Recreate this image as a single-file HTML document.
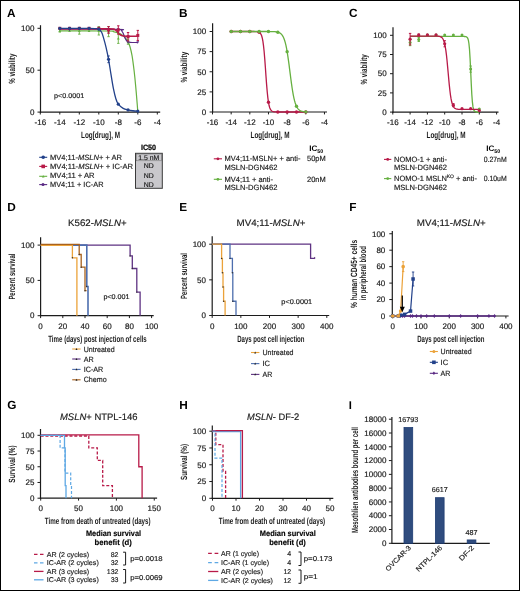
<!DOCTYPE html>
<html><head><meta charset="utf-8"><style>
html,body{margin:0;padding:0;background:#fff;}
#fig{position:relative;width:520px;height:591px;box-sizing:border-box;border:1px solid #000;overflow:hidden;background:#fff;}
#fig svg{position:absolute;left:-1px;top:-1px;will-change:transform;}
</style></head><body><div id="fig"><svg width="520" height="591" viewBox="0 0 520 591" font-family='"Liberation Sans", sans-serif' fill="#1a1a1a" text-rendering="geometricPrecision"><text x="7.00" y="16.60" font-size="11.8" font-weight="bold" fill="#000">A</text>
<line x1="40.50" y1="25.20" x2="40.50" y2="112.70" stroke="#1c1c1c" stroke-width="1.2" stroke-linecap="butt"/>
<line x1="37.50" y1="28.30" x2="40.50" y2="28.30" stroke="#1c1c1c" stroke-width="1.0" stroke-linecap="butt"/>
<text x="34.40" y="31.05" font-size="8.0" text-anchor="end" stroke="#1a1a1a" stroke-width="0.18">100</text>
<line x1="37.50" y1="70.20" x2="40.50" y2="70.20" stroke="#1c1c1c" stroke-width="1.0" stroke-linecap="butt"/>
<text x="34.40" y="72.95" font-size="8.0" text-anchor="end" stroke="#1a1a1a" stroke-width="0.18">50</text>
<line x1="37.50" y1="112.10" x2="40.50" y2="112.10" stroke="#1c1c1c" stroke-width="1.0" stroke-linecap="butt"/>
<text x="34.40" y="114.85" font-size="8.0" text-anchor="end" stroke="#1a1a1a" stroke-width="0.18">0</text>
<line x1="39.90" y1="112.10" x2="160.20" y2="112.10" stroke="#1c1c1c" stroke-width="1.2" stroke-linecap="butt"/>
<line x1="40.30" y1="112.10" x2="40.30" y2="114.50" stroke="#1c1c1c" stroke-width="1.0" stroke-linecap="butt"/>
<text x="40.30" y="125.00" font-size="8.0" text-anchor="middle" stroke="#1a1a1a" stroke-width="0.18">-16</text>
<line x1="59.80" y1="112.10" x2="59.80" y2="114.50" stroke="#1c1c1c" stroke-width="1.0" stroke-linecap="butt"/>
<text x="59.80" y="125.00" font-size="8.0" text-anchor="middle" stroke="#1a1a1a" stroke-width="0.18">-14</text>
<line x1="79.30" y1="112.10" x2="79.30" y2="114.50" stroke="#1c1c1c" stroke-width="1.0" stroke-linecap="butt"/>
<text x="79.30" y="125.00" font-size="8.0" text-anchor="middle" stroke="#1a1a1a" stroke-width="0.18">-12</text>
<line x1="98.80" y1="112.10" x2="98.80" y2="114.50" stroke="#1c1c1c" stroke-width="1.0" stroke-linecap="butt"/>
<text x="98.80" y="125.00" font-size="8.0" text-anchor="middle" stroke="#1a1a1a" stroke-width="0.18">-10</text>
<line x1="118.30" y1="112.10" x2="118.30" y2="114.50" stroke="#1c1c1c" stroke-width="1.0" stroke-linecap="butt"/>
<text x="118.30" y="125.00" font-size="8.0" text-anchor="middle" stroke="#1a1a1a" stroke-width="0.18">-8</text>
<line x1="137.80" y1="112.10" x2="137.80" y2="114.50" stroke="#1c1c1c" stroke-width="1.0" stroke-linecap="butt"/>
<text x="137.80" y="125.00" font-size="8.0" text-anchor="middle" stroke="#1a1a1a" stroke-width="0.18">-6</text>
<line x1="157.30" y1="112.10" x2="157.30" y2="114.50" stroke="#1c1c1c" stroke-width="1.0" stroke-linecap="butt"/>
<text x="157.30" y="125.00" font-size="8.0" text-anchor="middle" stroke="#1a1a1a" stroke-width="0.18">-4</text>
<text x="81.00" y="138.00" font-size="9" font-weight="bold" textLength="39" lengthAdjust="spacingAndGlyphs">Log[drug], M</text>
<text x="15.10" y="68.70" font-size="9" text-anchor="middle" font-weight="bold" textLength="30" lengthAdjust="spacingAndGlyphs" transform="rotate(-90 15.10 68.70)">% viability</text>
<text x="54.00" y="97.70" font-size="6.8" textLength="30.2" lengthAdjust="spacingAndGlyphs" stroke="#1a1a1a" stroke-width="0.16">p&lt;0.0001</text>
<path d="M59.80,30.81 C67.92,30.84 99.61,30.84 108.55,30.98 C117.49,31.12 111.80,31.33 113.42,31.65 C115.05,31.97 116.67,32.21 118.30,32.91 C119.92,33.61 121.88,34.86 123.17,35.84 C124.47,36.82 125.29,37.80 126.10,38.77 C126.91,39.75 127.40,40.38 128.05,41.71 C128.70,43.03 129.35,44.50 130.00,46.74 C130.65,48.97 131.38,52.04 131.95,55.12 C132.52,58.19 132.93,61.40 133.41,65.17 C133.90,68.94 134.39,72.99 134.88,77.74 C135.36,82.49 135.93,89.05 136.34,93.66 C136.74,98.27 137.07,102.32 137.31,105.40 C137.56,108.47 137.72,110.98 137.80,112.10" fill="none" stroke="#66b040" stroke-width="1.2"/>
<path d="M59.80,29.14 C69.55,29.17 108.06,29.10 118.30,29.31 C128.54,29.52 120.41,29.72 121.23,30.39 C122.04,31.07 122.53,32.00 123.17,33.33 C123.82,34.65 124.47,37.03 125.12,38.36 C125.77,39.68 126.26,40.63 127.08,41.29 C127.89,41.95 128.21,42.09 130.00,42.29 C131.79,42.50 136.50,42.50 137.80,42.55" fill="none" stroke="#5a2a84" stroke-width="1.2"/>
<path d="M59.80,28.72 C67.92,28.75 99.45,28.75 108.55,28.89 C117.65,29.03 112.94,29.10 114.40,29.56 C115.86,30.02 116.51,30.88 117.33,31.65 C118.14,32.42 118.46,33.50 119.27,34.17 C120.09,34.84 121.06,35.34 122.20,35.67 C123.34,36.01 123.50,36.08 126.10,36.18 C128.70,36.27 135.85,36.25 137.80,36.26" fill="none" stroke="#b81a48" stroke-width="1.6"/>
<path d="M59.80,28.30 C64.67,28.30 83.04,28.24 89.05,28.30 C95.06,28.36 94.25,28.50 95.88,28.64 C97.50,28.77 97.83,28.50 98.80,29.14 C99.77,29.78 100.91,30.95 101.72,32.49 C102.54,34.03 102.94,35.84 103.67,38.36 C104.41,40.87 105.30,44.08 106.11,47.57 C106.92,51.07 107.74,54.84 108.55,59.31 C109.36,63.78 110.17,69.50 110.99,74.39 C111.80,79.28 112.61,84.59 113.42,88.64 C114.24,92.69 115.05,96.11 115.86,98.69 C116.67,101.28 117.08,102.53 118.30,104.14 C119.52,105.75 121.55,107.37 123.17,108.33 C124.80,109.29 126.43,109.52 128.05,109.92 C129.68,110.33 131.30,110.56 132.93,110.76 C134.55,110.95 136.99,111.04 137.80,111.09" fill="none" stroke="#22418a" stroke-width="1.3"/>
<line x1="59.80" y1="29.56" x2="59.80" y2="32.07" stroke="#66b040" stroke-width="0.9" stroke-linecap="butt"/>
<line x1="58.60" y1="29.56" x2="61.00" y2="29.56" stroke="#66b040" stroke-width="0.9" stroke-linecap="butt"/>
<line x1="58.60" y1="32.07" x2="61.00" y2="32.07" stroke="#66b040" stroke-width="0.9" stroke-linecap="butt"/>
<path d="M58.40,32.01 L61.20,32.01 L59.80,29.51Z" fill="#66b040"/>
<path d="M68.15,32.01 L70.95,32.01 L69.55,29.51Z" fill="#66b040"/>
<line x1="79.30" y1="27.46" x2="79.30" y2="34.17" stroke="#66b040" stroke-width="0.9" stroke-linecap="butt"/>
<line x1="78.10" y1="27.46" x2="80.50" y2="27.46" stroke="#66b040" stroke-width="0.9" stroke-linecap="butt"/>
<line x1="78.10" y1="34.17" x2="80.50" y2="34.17" stroke="#66b040" stroke-width="0.9" stroke-linecap="butt"/>
<path d="M77.90,32.01 L80.70,32.01 L79.30,29.51Z" fill="#66b040"/>
<path d="M87.65,32.01 L90.45,32.01 L89.05,29.51Z" fill="#66b040"/>
<line x1="98.80" y1="26.62" x2="98.80" y2="35.00" stroke="#66b040" stroke-width="0.9" stroke-linecap="butt"/>
<line x1="97.60" y1="26.62" x2="100.00" y2="26.62" stroke="#66b040" stroke-width="0.9" stroke-linecap="butt"/>
<line x1="97.60" y1="35.00" x2="100.00" y2="35.00" stroke="#66b040" stroke-width="0.9" stroke-linecap="butt"/>
<path d="M97.40,32.01 L100.20,32.01 L98.80,29.51Z" fill="#66b040"/>
<line x1="108.55" y1="26.62" x2="108.55" y2="36.68" stroke="#66b040" stroke-width="0.9" stroke-linecap="butt"/>
<line x1="107.35" y1="26.62" x2="109.75" y2="26.62" stroke="#66b040" stroke-width="0.9" stroke-linecap="butt"/>
<line x1="107.35" y1="36.68" x2="109.75" y2="36.68" stroke="#66b040" stroke-width="0.9" stroke-linecap="butt"/>
<path d="M107.15,32.85 L109.95,32.85 L108.55,30.35Z" fill="#66b040"/>
<line x1="118.30" y1="33.33" x2="118.30" y2="43.38" stroke="#66b040" stroke-width="0.9" stroke-linecap="butt"/>
<line x1="117.10" y1="33.33" x2="119.50" y2="33.33" stroke="#66b040" stroke-width="0.9" stroke-linecap="butt"/>
<line x1="117.10" y1="43.38" x2="119.50" y2="43.38" stroke="#66b040" stroke-width="0.9" stroke-linecap="butt"/>
<path d="M116.90,39.56 L119.70,39.56 L118.30,37.06Z" fill="#66b040"/>
<line x1="128.05" y1="39.19" x2="128.05" y2="44.22" stroke="#66b040" stroke-width="0.9" stroke-linecap="butt"/>
<line x1="126.85" y1="39.19" x2="129.25" y2="39.19" stroke="#66b040" stroke-width="0.9" stroke-linecap="butt"/>
<line x1="126.85" y1="44.22" x2="129.25" y2="44.22" stroke="#66b040" stroke-width="0.9" stroke-linecap="butt"/>
<path d="M126.65,42.91 L129.45,42.91 L128.05,40.41Z" fill="#66b040"/>
<path d="M58.40,27.94 L61.20,27.94 L59.80,30.44Z" fill="#5a2a84"/>
<path d="M68.15,28.78 L70.95,28.78 L69.55,31.28Z" fill="#5a2a84"/>
<path d="M77.90,27.94 L80.70,27.94 L79.30,30.44Z" fill="#5a2a84"/>
<path d="M87.65,27.94 L90.45,27.94 L89.05,30.44Z" fill="#5a2a84"/>
<path d="M97.40,27.94 L100.20,27.94 L98.80,30.44Z" fill="#5a2a84"/>
<path d="M107.15,27.94 L109.95,27.94 L108.55,30.44Z" fill="#5a2a84"/>
<path d="M116.90,28.36 L119.70,28.36 L118.30,30.86Z" fill="#5a2a84"/>
<path d="M126.65,41.35 L129.45,41.35 L128.05,43.85Z" fill="#5a2a84"/>
<path d="M136.40,41.35 L139.20,41.35 L137.80,43.85Z" fill="#5a2a84"/>
<rect x="58.30" y="26.80" width="3.00" height="3.00" fill="#b81a48" stroke="none" stroke-width="0"/>
<rect x="68.05" y="26.80" width="3.00" height="3.00" fill="#b81a48" stroke="none" stroke-width="0"/>
<rect x="77.80" y="26.80" width="3.00" height="3.00" fill="#b81a48" stroke="none" stroke-width="0"/>
<rect x="87.55" y="26.80" width="3.00" height="3.00" fill="#b81a48" stroke="none" stroke-width="0"/>
<rect x="97.30" y="26.80" width="3.00" height="3.00" fill="#b81a48" stroke="none" stroke-width="0"/>
<line x1="108.55" y1="26.62" x2="108.55" y2="33.33" stroke="#b81a48" stroke-width="1.0" stroke-linecap="butt"/>
<line x1="107.35" y1="26.62" x2="109.75" y2="26.62" stroke="#b81a48" stroke-width="1.0" stroke-linecap="butt"/>
<line x1="107.35" y1="33.33" x2="109.75" y2="33.33" stroke="#b81a48" stroke-width="1.0" stroke-linecap="butt"/>
<rect x="107.05" y="28.48" width="3.00" height="3.00" fill="#b81a48" stroke="none" stroke-width="0"/>
<line x1="118.30" y1="25.79" x2="118.30" y2="34.17" stroke="#b81a48" stroke-width="1.0" stroke-linecap="butt"/>
<line x1="117.10" y1="25.79" x2="119.50" y2="25.79" stroke="#b81a48" stroke-width="1.0" stroke-linecap="butt"/>
<line x1="117.10" y1="34.17" x2="119.50" y2="34.17" stroke="#b81a48" stroke-width="1.0" stroke-linecap="butt"/>
<rect x="116.80" y="28.48" width="3.00" height="3.00" fill="#b81a48" stroke="none" stroke-width="0"/>
<line x1="128.05" y1="32.49" x2="128.05" y2="40.87" stroke="#b81a48" stroke-width="1.0" stroke-linecap="butt"/>
<line x1="126.85" y1="32.49" x2="129.25" y2="32.49" stroke="#b81a48" stroke-width="1.0" stroke-linecap="butt"/>
<line x1="126.85" y1="40.87" x2="129.25" y2="40.87" stroke="#b81a48" stroke-width="1.0" stroke-linecap="butt"/>
<rect x="126.55" y="35.18" width="3.00" height="3.00" fill="#b81a48" stroke="none" stroke-width="0"/>
<line x1="137.80" y1="30.39" x2="137.80" y2="40.45" stroke="#b81a48" stroke-width="1.0" stroke-linecap="butt"/>
<line x1="136.60" y1="30.39" x2="139.00" y2="30.39" stroke="#b81a48" stroke-width="1.0" stroke-linecap="butt"/>
<line x1="136.60" y1="40.45" x2="139.00" y2="40.45" stroke="#b81a48" stroke-width="1.0" stroke-linecap="butt"/>
<rect x="136.30" y="33.92" width="3.00" height="3.00" fill="#b81a48" stroke="none" stroke-width="0"/>
<circle cx="59.80" cy="28.30" r="1.6" fill="#22418a"/>
<circle cx="69.55" cy="28.30" r="1.6" fill="#22418a"/>
<circle cx="79.30" cy="28.30" r="1.6" fill="#22418a"/>
<circle cx="89.05" cy="28.30" r="1.6" fill="#22418a"/>
<circle cx="98.80" cy="29.14" r="1.6" fill="#22418a"/>
<circle cx="108.55" cy="59.31" r="1.6" fill="#22418a"/>
<circle cx="118.30" cy="104.14" r="1.6" fill="#22418a"/>
<circle cx="128.05" cy="109.92" r="1.6" fill="#22418a"/>
<circle cx="137.80" cy="111.09" r="1.6" fill="#22418a"/>
<line x1="108.55" y1="55.95" x2="108.55" y2="62.66" stroke="#22418a" stroke-width="0.9" stroke-linecap="butt"/>
<line x1="107.35" y1="55.95" x2="109.75" y2="55.95" stroke="#22418a" stroke-width="0.9" stroke-linecap="butt"/>
<line x1="107.35" y1="62.66" x2="109.75" y2="62.66" stroke="#22418a" stroke-width="0.9" stroke-linecap="butt"/>
<line x1="39.20" y1="157.30" x2="47.20" y2="157.30" stroke="#22418a" stroke-width="1.1" stroke-linecap="butt"/>
<circle cx="43.20" cy="157.30" r="1.8" fill="#22418a"/>
<text x="50.00" y="159.70" font-size="7.6" textLength="72" lengthAdjust="spacingAndGlyphs" stroke="#1a1a1a" stroke-width="0.16">MV4;11-<tspan font-style="italic">MSLN</tspan>+ + AR</text>
<line x1="39.20" y1="166.40" x2="47.20" y2="166.40" stroke="#b81a48" stroke-width="1.1" stroke-linecap="butt"/>
<rect x="41.40" y="164.60" width="3.60" height="3.60" fill="#b81a48" stroke="none" stroke-width="0"/>
<text x="50.00" y="168.80" font-size="7.6" textLength="83" lengthAdjust="spacingAndGlyphs" stroke="#1a1a1a" stroke-width="0.16">MV4;11-<tspan font-style="italic">MSLN</tspan>+ + IC-AR</text>
<line x1="39.20" y1="176.30" x2="47.20" y2="176.30" stroke="#66b040" stroke-width="1.1" stroke-linecap="butt"/>
<path d="M41.9,177.40 L44.5,177.40 L43.2,175.10Z" fill="#66b040"/>
<text x="50.00" y="177.90" font-size="7.6" textLength="44.5" lengthAdjust="spacingAndGlyphs" stroke="#1a1a1a" stroke-width="0.16">MV4;11 + AR</text>
<line x1="39.20" y1="184.60" x2="47.20" y2="184.60" stroke="#5a2a84" stroke-width="1.1" stroke-linecap="butt"/>
<circle cx="43.00" cy="184.60" r="1.5" fill="#5a2a84"/>
<text x="50.00" y="187.00" font-size="7.6" textLength="53.5" lengthAdjust="spacingAndGlyphs" stroke="#1a1a1a" stroke-width="0.16">MV4;11 + IC-AR</text>
<text x="148.50" y="150.00" font-size="7.6" text-anchor="middle" font-weight="bold" textLength="15.2" lengthAdjust="spacingAndGlyphs" fill="#000" stroke="#000" stroke-width="0.2">IC50</text>
<rect x="135.50" y="153.30" width="26.80" height="35.00" fill="#c9c8cc" stroke="#3a3a3a" stroke-width="1.0"/>
<rect x="136.20" y="154.00" width="25.40" height="6.80" fill="none" stroke="#6a6a6a" stroke-width="0.5"/>
<text x="148.80" y="159.60" font-size="6.9" text-anchor="middle" stroke="#1a1a1a" stroke-width="0.16">1.5 nM</text>
<text x="148.80" y="168.40" font-size="6.9" text-anchor="middle" stroke="#1a1a1a" stroke-width="0.16">ND</text>
<text x="148.80" y="177.50" font-size="6.9" text-anchor="middle" stroke="#1a1a1a" stroke-width="0.16">ND</text>
<text x="148.80" y="186.50" font-size="6.9" text-anchor="middle" stroke="#1a1a1a" stroke-width="0.16">ND</text>
<text x="179.00" y="16.80" font-size="11.8" font-weight="bold" fill="#000">B</text>
<line x1="212.60" y1="23.20" x2="212.60" y2="112.60" stroke="#1c1c1c" stroke-width="1.2" stroke-linecap="butt"/>
<line x1="209.60" y1="31.50" x2="212.60" y2="31.50" stroke="#1c1c1c" stroke-width="1.0" stroke-linecap="butt"/>
<text x="206.10" y="34.25" font-size="8.0" text-anchor="end" stroke="#1a1a1a" stroke-width="0.18">100</text>
<line x1="209.60" y1="51.62" x2="212.60" y2="51.62" stroke="#1c1c1c" stroke-width="1.0" stroke-linecap="butt"/>
<text x="206.10" y="54.37" font-size="8.0" text-anchor="end" stroke="#1a1a1a" stroke-width="0.18">75</text>
<line x1="209.60" y1="71.75" x2="212.60" y2="71.75" stroke="#1c1c1c" stroke-width="1.0" stroke-linecap="butt"/>
<text x="206.10" y="74.50" font-size="8.0" text-anchor="end" stroke="#1a1a1a" stroke-width="0.18">50</text>
<line x1="209.60" y1="91.88" x2="212.60" y2="91.88" stroke="#1c1c1c" stroke-width="1.0" stroke-linecap="butt"/>
<text x="206.10" y="94.62" font-size="8.0" text-anchor="end" stroke="#1a1a1a" stroke-width="0.18">25</text>
<line x1="209.60" y1="112.00" x2="212.60" y2="112.00" stroke="#1c1c1c" stroke-width="1.0" stroke-linecap="butt"/>
<text x="206.10" y="114.75" font-size="8.0" text-anchor="end" stroke="#1a1a1a" stroke-width="0.18">0</text>
<line x1="212.00" y1="112.00" x2="327.00" y2="112.00" stroke="#1c1c1c" stroke-width="1.2" stroke-linecap="butt"/>
<line x1="212.50" y1="112.00" x2="212.50" y2="114.40" stroke="#1c1c1c" stroke-width="1.0" stroke-linecap="butt"/>
<text x="212.50" y="125.00" font-size="8.0" text-anchor="middle" stroke="#1a1a1a" stroke-width="0.18">-16</text>
<line x1="231.16" y1="112.00" x2="231.16" y2="114.40" stroke="#1c1c1c" stroke-width="1.0" stroke-linecap="butt"/>
<text x="231.16" y="125.00" font-size="8.0" text-anchor="middle" stroke="#1a1a1a" stroke-width="0.18">-14</text>
<line x1="249.82" y1="112.00" x2="249.82" y2="114.40" stroke="#1c1c1c" stroke-width="1.0" stroke-linecap="butt"/>
<text x="249.82" y="125.00" font-size="8.0" text-anchor="middle" stroke="#1a1a1a" stroke-width="0.18">-12</text>
<line x1="268.48" y1="112.00" x2="268.48" y2="114.40" stroke="#1c1c1c" stroke-width="1.0" stroke-linecap="butt"/>
<text x="268.48" y="125.00" font-size="8.0" text-anchor="middle" stroke="#1a1a1a" stroke-width="0.18">-10</text>
<line x1="287.14" y1="112.00" x2="287.14" y2="114.40" stroke="#1c1c1c" stroke-width="1.0" stroke-linecap="butt"/>
<text x="287.14" y="125.00" font-size="8.0" text-anchor="middle" stroke="#1a1a1a" stroke-width="0.18">-8</text>
<line x1="305.80" y1="112.00" x2="305.80" y2="114.40" stroke="#1c1c1c" stroke-width="1.0" stroke-linecap="butt"/>
<text x="305.80" y="125.00" font-size="8.0" text-anchor="middle" stroke="#1a1a1a" stroke-width="0.18">-6</text>
<line x1="324.46" y1="112.00" x2="324.46" y2="114.40" stroke="#1c1c1c" stroke-width="1.0" stroke-linecap="butt"/>
<text x="324.46" y="125.00" font-size="8.0" text-anchor="middle" stroke="#1a1a1a" stroke-width="0.18">-4</text>
<text x="270.00" y="138.00" font-size="9" text-anchor="middle" font-weight="bold" textLength="39" lengthAdjust="spacingAndGlyphs">Log[drug], M</text>
<text x="186.80" y="67.20" font-size="9" text-anchor="middle" font-weight="bold" textLength="30.8" lengthAdjust="spacingAndGlyphs" transform="rotate(-90 186.80 67.20)">% viability</text>
<path d="M231.16,31.50 L231.78,31.50 L232.40,31.50 L233.03,31.50 L233.65,31.50 L234.27,31.50 L234.89,31.50 L235.51,31.50 L236.14,31.50 L236.76,31.50 L237.38,31.50 L238.00,31.50 L238.62,31.50 L239.25,31.50 L239.87,31.50 L240.49,31.50 L241.11,31.50 L241.73,31.50 L242.36,31.50 L242.98,31.50 L243.60,31.50 L244.22,31.50 L244.84,31.50 L245.47,31.50 L246.09,31.50 L246.71,31.50 L247.33,31.50 L247.95,31.50 L248.58,31.50 L249.20,31.50 L249.82,31.50 L250.44,31.50 L251.06,31.50 L251.69,31.50 L252.31,31.51 L252.93,31.51 L253.55,31.51 L254.17,31.52 L254.80,31.54 L255.42,31.55 L256.04,31.58 L256.66,31.63 L257.28,31.71 L257.91,31.82 L258.53,32.00 L259.15,32.27 L259.77,32.69 L260.39,33.34 L261.02,34.32 L261.64,35.80 L262.26,38.00 L262.88,41.19 L263.50,45.63 L264.13,51.53 L264.75,58.87 L265.37,67.32 L265.99,76.18 L266.61,84.63 L267.24,91.97 L267.86,97.87 L268.48,102.31 L269.10,105.50 L269.72,107.70 L270.35,109.18 L270.97,110.16 L271.59,110.81 L272.21,111.23 L272.83,111.50 L273.46,111.68 L274.08,111.79 L274.70,111.87 L275.32,111.92 L275.94,111.95 L276.57,111.96 L277.19,111.98 L277.81,111.99 L278.43,111.99 L279.05,111.99 L279.68,112.00 L280.30,112.00 L280.92,112.00 L281.54,112.00 L282.16,112.00 L282.79,112.00 L283.41,112.00 L284.03,112.00 L284.65,112.00 L285.27,112.00 L285.90,112.00 L286.52,112.00 L287.14,112.00 L287.76,112.00 L288.38,112.00 L289.01,112.00 L289.63,112.00 L290.25,112.00 L290.87,112.00 L291.49,112.00 L292.12,112.00 L292.74,112.00 L293.36,112.00 L293.98,112.00 L294.60,112.00 L295.23,112.00 L295.85,112.00 L296.47,112.00 L297.09,112.00 L297.71,112.00 L298.34,112.00 L298.96,112.00 L299.58,112.00 L300.20,112.00 L300.82,112.00 L301.45,112.00 L302.07,112.00 L302.69,112.00 L303.31,112.00 L303.93,112.00 L304.56,112.00 L305.18,112.00 L305.80,112.00" fill="none" stroke="#b81a48" stroke-width="1.3" stroke-linejoin="miter"/>
<path d="M231.16,31.50 L231.78,31.50 L232.40,31.50 L233.03,31.50 L233.65,31.50 L234.27,31.50 L234.89,31.50 L235.51,31.50 L236.14,31.50 L236.76,31.50 L237.38,31.50 L238.00,31.50 L238.62,31.50 L239.25,31.50 L239.87,31.50 L240.49,31.50 L241.11,31.50 L241.73,31.50 L242.36,31.50 L242.98,31.50 L243.60,31.50 L244.22,31.50 L244.84,31.50 L245.47,31.50 L246.09,31.50 L246.71,31.50 L247.33,31.50 L247.95,31.50 L248.58,31.50 L249.20,31.50 L249.82,31.50 L250.44,31.50 L251.06,31.50 L251.69,31.50 L252.31,31.50 L252.93,31.50 L253.55,31.50 L254.17,31.50 L254.80,31.50 L255.42,31.50 L256.04,31.50 L256.66,31.50 L257.28,31.50 L257.91,31.50 L258.53,31.50 L259.15,31.50 L259.77,31.50 L260.39,31.50 L261.02,31.50 L261.64,31.50 L262.26,31.50 L262.88,31.50 L263.50,31.50 L264.13,31.50 L264.75,31.50 L265.37,31.51 L265.99,31.51 L266.61,31.51 L267.24,31.51 L267.86,31.51 L268.48,31.52 L269.10,31.52 L269.72,31.53 L270.35,31.54 L270.97,31.55 L271.59,31.56 L272.21,31.58 L272.83,31.60 L273.46,31.62 L274.08,31.66 L274.70,31.70 L275.32,31.76 L275.94,31.83 L276.57,31.92 L277.19,32.04 L277.81,32.18 L278.43,32.37 L279.05,32.61 L279.68,32.91 L280.30,33.29 L280.92,33.77 L281.54,34.38 L282.16,35.14 L282.79,36.08 L283.41,37.26 L284.03,38.71 L284.65,40.48 L285.27,42.62 L285.90,45.18 L286.52,48.17 L287.14,51.63 L287.76,55.53 L288.38,59.84 L289.01,64.46 L289.63,69.30 L290.25,74.20 L290.87,79.04 L291.49,83.66 L292.12,87.97 L292.74,91.87 L293.36,95.33 L293.98,98.32 L294.60,100.88 L295.23,103.02 L295.85,104.79 L296.47,106.24 L297.09,107.42 L297.71,108.36 L298.34,109.12 L298.96,109.73 L299.58,110.21 L300.20,110.59 L300.82,110.89 L301.45,111.13 L302.07,111.32 L302.69,111.46 L303.31,111.58 L303.93,111.67 L304.56,111.74 L305.18,111.80 L305.80,111.84" fill="none" stroke="#66b040" stroke-width="1.3" stroke-linejoin="miter"/>
<circle cx="231.16" cy="31.50" r="1.7" fill="#b81a48"/>
<circle cx="240.49" cy="31.50" r="1.7" fill="#b81a48"/>
<circle cx="249.82" cy="31.50" r="1.7" fill="#b81a48"/>
<circle cx="259.15" cy="32.27" r="1.7" fill="#b81a48"/>
<circle cx="268.48" cy="102.31" r="1.7" fill="#b81a48"/>
<circle cx="277.81" cy="111.99" r="1.7" fill="#b81a48"/>
<circle cx="287.14" cy="112.00" r="1.7" fill="#b81a48"/>
<circle cx="296.47" cy="112.00" r="1.7" fill="#b81a48"/>
<circle cx="305.80" cy="112.00" r="1.7" fill="#b81a48"/>
<circle cx="231.16" cy="31.50" r="1.7" fill="#66b040"/>
<circle cx="240.49" cy="31.50" r="1.7" fill="#66b040"/>
<circle cx="249.82" cy="31.50" r="1.7" fill="#66b040"/>
<circle cx="259.15" cy="31.50" r="1.7" fill="#66b040"/>
<circle cx="268.48" cy="31.52" r="1.7" fill="#66b040"/>
<circle cx="277.81" cy="32.18" r="1.7" fill="#66b040"/>
<circle cx="287.14" cy="51.63" r="1.7" fill="#66b040"/>
<circle cx="296.47" cy="106.24" r="1.7" fill="#66b040"/>
<circle cx="305.80" cy="111.84" r="1.7" fill="#66b040"/>
<text x="309.30" y="151.20" font-size="8.0" font-weight="bold" fill="#000">IC<tspan font-size="5.4" dy="1.7">50</tspan></text>
<line x1="213.80" y1="158.80" x2="222.00" y2="158.80" stroke="#b81a48" stroke-width="1.1" stroke-linecap="butt"/>
<circle cx="217.90" cy="158.80" r="1.4" fill="#b81a48"/>
<line x1="213.80" y1="179.30" x2="222.00" y2="179.30" stroke="#66b040" stroke-width="1.1" stroke-linecap="butt"/>
<circle cx="217.90" cy="179.30" r="1.4" fill="#66b040"/>
<text x="224.50" y="161.20" font-size="7.6" textLength="76" lengthAdjust="spacingAndGlyphs" stroke="#1a1a1a" stroke-width="0.16">MV4;11-MSLN+ + anti-</text>
<text x="224.50" y="170.00" font-size="7.6" textLength="53" lengthAdjust="spacingAndGlyphs" stroke="#1a1a1a" stroke-width="0.16">MSLN-DGN462</text>
<text x="224.50" y="181.70" font-size="7.6" textLength="48.5" lengthAdjust="spacingAndGlyphs" stroke="#1a1a1a" stroke-width="0.16">MV4;11 + anti-</text>
<text x="224.50" y="190.00" font-size="7.6" textLength="53" lengthAdjust="spacingAndGlyphs" stroke="#1a1a1a" stroke-width="0.16">MSLN-DGN462</text>
<text x="307.00" y="161.20" font-size="7.6" textLength="18.7" lengthAdjust="spacingAndGlyphs" stroke="#1a1a1a" stroke-width="0.16">50pM</text>
<text x="307.00" y="181.70" font-size="7.6" textLength="18.7" lengthAdjust="spacingAndGlyphs" stroke="#1a1a1a" stroke-width="0.16">20nM</text>
<text x="349.00" y="16.80" font-size="11.8" font-weight="bold" fill="#000">C</text>
<line x1="393.00" y1="27.20" x2="393.00" y2="112.70" stroke="#1c1c1c" stroke-width="1.2" stroke-linecap="butt"/>
<line x1="390.00" y1="35.30" x2="393.00" y2="35.30" stroke="#1c1c1c" stroke-width="1.0" stroke-linecap="butt"/>
<text x="386.70" y="38.05" font-size="8.0" text-anchor="end" stroke="#1a1a1a" stroke-width="0.18">100</text>
<line x1="390.00" y1="54.50" x2="393.00" y2="54.50" stroke="#1c1c1c" stroke-width="1.0" stroke-linecap="butt"/>
<text x="386.70" y="57.25" font-size="8.0" text-anchor="end" stroke="#1a1a1a" stroke-width="0.18">75</text>
<line x1="390.00" y1="73.70" x2="393.00" y2="73.70" stroke="#1c1c1c" stroke-width="1.0" stroke-linecap="butt"/>
<text x="386.70" y="76.45" font-size="8.0" text-anchor="end" stroke="#1a1a1a" stroke-width="0.18">50</text>
<line x1="390.00" y1="92.90" x2="393.00" y2="92.90" stroke="#1c1c1c" stroke-width="1.0" stroke-linecap="butt"/>
<text x="386.70" y="95.65" font-size="8.0" text-anchor="end" stroke="#1a1a1a" stroke-width="0.18">25</text>
<line x1="390.00" y1="112.10" x2="393.00" y2="112.10" stroke="#1c1c1c" stroke-width="1.0" stroke-linecap="butt"/>
<text x="386.70" y="114.85" font-size="8.0" text-anchor="end" stroke="#1a1a1a" stroke-width="0.18">0</text>
<line x1="392.40" y1="112.10" x2="498.50" y2="112.10" stroke="#1c1c1c" stroke-width="1.2" stroke-linecap="butt"/>
<line x1="392.80" y1="112.10" x2="392.80" y2="114.50" stroke="#1c1c1c" stroke-width="1.0" stroke-linecap="butt"/>
<text x="392.80" y="125.30" font-size="8.0" text-anchor="middle" stroke="#1a1a1a" stroke-width="0.18">-16</text>
<line x1="410.10" y1="112.10" x2="410.10" y2="114.50" stroke="#1c1c1c" stroke-width="1.0" stroke-linecap="butt"/>
<text x="410.10" y="125.30" font-size="8.0" text-anchor="middle" stroke="#1a1a1a" stroke-width="0.18">-14</text>
<line x1="427.40" y1="112.10" x2="427.40" y2="114.50" stroke="#1c1c1c" stroke-width="1.0" stroke-linecap="butt"/>
<text x="427.40" y="125.30" font-size="8.0" text-anchor="middle" stroke="#1a1a1a" stroke-width="0.18">-12</text>
<line x1="444.70" y1="112.10" x2="444.70" y2="114.50" stroke="#1c1c1c" stroke-width="1.0" stroke-linecap="butt"/>
<text x="444.70" y="125.30" font-size="8.0" text-anchor="middle" stroke="#1a1a1a" stroke-width="0.18">-10</text>
<line x1="462.00" y1="112.10" x2="462.00" y2="114.50" stroke="#1c1c1c" stroke-width="1.0" stroke-linecap="butt"/>
<text x="462.00" y="125.30" font-size="8.0" text-anchor="middle" stroke="#1a1a1a" stroke-width="0.18">-8</text>
<line x1="479.30" y1="112.10" x2="479.30" y2="114.50" stroke="#1c1c1c" stroke-width="1.0" stroke-linecap="butt"/>
<text x="479.30" y="125.30" font-size="8.0" text-anchor="middle" stroke="#1a1a1a" stroke-width="0.18">-6</text>
<line x1="496.60" y1="112.10" x2="496.60" y2="114.50" stroke="#1c1c1c" stroke-width="1.0" stroke-linecap="butt"/>
<text x="496.60" y="125.30" font-size="8.0" text-anchor="middle" stroke="#1a1a1a" stroke-width="0.18">-4</text>
<text x="446.00" y="138.00" font-size="9" text-anchor="middle" font-weight="bold" textLength="39" lengthAdjust="spacingAndGlyphs">Log[drug], M</text>
<text x="367.50" y="69.30" font-size="9" text-anchor="middle" font-weight="bold" textLength="30.2" lengthAdjust="spacingAndGlyphs" transform="rotate(-90 367.50 69.30)">% viability</text>
<path d="M410.10,36.45 L410.68,36.45 L411.25,36.45 L411.83,36.45 L412.41,36.45 L412.98,36.45 L413.56,36.45 L414.14,36.45 L414.71,36.45 L415.29,36.45 L415.87,36.45 L416.44,36.45 L417.02,36.45 L417.60,36.45 L418.17,36.45 L418.75,36.45 L419.33,36.45 L419.90,36.45 L420.48,36.45 L421.06,36.45 L421.63,36.45 L422.21,36.45 L422.79,36.45 L423.36,36.45 L423.94,36.45 L424.52,36.45 L425.09,36.45 L425.67,36.45 L426.25,36.45 L426.82,36.45 L427.40,36.45 L427.98,36.45 L428.55,36.45 L429.13,36.45 L429.71,36.45 L430.28,36.45 L430.86,36.45 L431.44,36.45 L432.01,36.45 L432.59,36.45 L433.17,36.45 L433.74,36.45 L434.32,36.45 L434.90,36.45 L435.47,36.45 L436.05,36.45 L436.63,36.45 L437.20,36.45 L437.78,36.45 L438.36,36.45 L438.93,36.45 L439.51,36.45 L440.09,36.45 L440.66,36.45 L441.24,36.45 L441.82,36.45 L442.39,36.45 L442.97,36.45 L443.55,36.45 L444.12,36.45 L444.70,36.45 L445.28,36.45 L445.85,36.45 L446.43,36.45 L447.01,36.45 L447.58,36.45 L448.16,36.45 L448.74,36.45 L449.31,36.45 L449.89,36.45 L450.47,36.45 L451.04,36.45 L451.62,36.45 L452.20,36.45 L452.77,36.45 L453.35,36.45 L453.93,36.45 L454.50,36.45 L455.08,36.45 L455.66,36.45 L456.23,36.45 L456.81,36.45 L457.39,36.45 L457.96,36.45 L458.54,36.45 L459.12,36.45 L459.69,36.45 L460.27,36.45 L460.85,36.45 L461.42,36.45 L462.00,36.45 L462.58,36.46 L463.15,36.46 L463.73,36.47 L464.31,36.48 L464.88,36.51 L465.46,36.57 L466.04,36.70 L466.61,36.94 L467.19,37.41 L467.77,38.35 L468.34,40.14 L468.92,43.47 L469.50,49.28 L470.07,58.35 L470.65,70.37 L471.23,83.25 L471.80,94.24 L472.38,101.95 L472.96,106.65 L473.53,109.27 L474.11,110.65 L474.69,111.37 L475.26,111.73 L475.84,111.91 L476.42,112.01 L476.99,112.05 L477.57,112.08 L478.15,112.09 L478.72,112.09 L479.30,112.10" fill="none" stroke="#66b040" stroke-width="1.3" stroke-linejoin="miter"/>
<path d="M410.10,36.07 L410.68,36.07 L411.25,36.07 L411.83,36.07 L412.41,36.07 L412.98,36.07 L413.56,36.07 L414.14,36.07 L414.71,36.07 L415.29,36.07 L415.87,36.07 L416.44,36.07 L417.02,36.07 L417.60,36.07 L418.17,36.07 L418.75,36.07 L419.33,36.07 L419.90,36.07 L420.48,36.07 L421.06,36.07 L421.63,36.07 L422.21,36.07 L422.79,36.07 L423.36,36.07 L423.94,36.07 L424.52,36.07 L425.09,36.07 L425.67,36.07 L426.25,36.07 L426.82,36.07 L427.40,36.07 L427.98,36.07 L428.55,36.07 L429.13,36.07 L429.71,36.07 L430.28,36.07 L430.86,36.07 L431.44,36.07 L432.01,36.07 L432.59,36.07 L433.17,36.08 L433.74,36.08 L434.32,36.08 L434.90,36.09 L435.47,36.10 L436.05,36.11 L436.63,36.13 L437.20,36.16 L437.78,36.20 L438.36,36.25 L438.93,36.33 L439.51,36.43 L440.09,36.59 L440.66,36.81 L441.24,37.11 L441.82,37.55 L442.39,38.15 L442.97,39.00 L443.55,40.18 L444.12,41.78 L444.70,43.94 L445.28,46.79 L445.85,50.43 L446.43,54.95 L447.01,60.30 L447.58,66.33 L448.16,72.74 L448.74,79.15 L449.31,85.18 L449.89,90.53 L450.47,95.05 L451.04,98.69 L451.62,101.54 L452.20,103.70 L452.77,105.30 L453.35,106.48 L453.93,107.33 L454.50,107.93 L455.08,108.37 L455.66,108.67 L456.23,108.89 L456.81,109.05 L457.39,109.15 L457.96,109.23 L458.54,109.28 L459.12,109.32 L459.69,109.35 L460.27,109.37 L460.85,109.38 L461.42,109.39 L462.00,109.40 L462.58,109.40 L463.15,109.40 L463.73,109.41 L464.31,109.41 L464.88,109.41 L465.46,109.41 L466.04,109.41 L466.61,109.41 L467.19,109.41 L467.77,109.41 L468.34,109.41 L468.92,109.41 L469.50,109.41 L470.07,109.41 L470.65,109.41 L471.23,109.41 L471.80,109.41 L472.38,109.41 L472.96,109.41 L473.53,109.41 L474.11,109.41 L474.69,109.41 L475.26,109.41 L475.84,109.41 L476.42,109.41 L476.99,109.41 L477.57,109.41 L478.15,109.41 L478.72,109.41 L479.30,109.41" fill="none" stroke="#b81a48" stroke-width="1.3" stroke-linejoin="miter"/>
<line x1="410.10" y1="39.52" x2="410.10" y2="45.67" stroke="#66b040" stroke-width="1.0" stroke-linecap="butt"/>
<line x1="408.90" y1="39.52" x2="411.30" y2="39.52" stroke="#66b040" stroke-width="1.0" stroke-linecap="butt"/>
<line x1="408.90" y1="45.67" x2="411.30" y2="45.67" stroke="#66b040" stroke-width="1.0" stroke-linecap="butt"/>
<circle cx="410.10" cy="42.60" r="1.5" fill="#66b040"/>
<line x1="418.75" y1="37.60" x2="418.75" y2="41.44" stroke="#66b040" stroke-width="1.0" stroke-linecap="butt"/>
<line x1="417.55" y1="37.60" x2="419.95" y2="37.60" stroke="#66b040" stroke-width="1.0" stroke-linecap="butt"/>
<line x1="417.55" y1="41.44" x2="419.95" y2="41.44" stroke="#66b040" stroke-width="1.0" stroke-linecap="butt"/>
<circle cx="418.75" cy="39.52" r="1.5" fill="#66b040"/>
<circle cx="427.40" cy="34.92" r="1.5" fill="#66b040"/>
<circle cx="436.05" cy="34.92" r="1.5" fill="#66b040"/>
<circle cx="444.70" cy="34.92" r="1.5" fill="#66b040"/>
<circle cx="453.35" cy="34.92" r="1.5" fill="#66b040"/>
<circle cx="462.00" cy="34.92" r="1.5" fill="#66b040"/>
<line x1="470.65" y1="66.02" x2="470.65" y2="72.16" stroke="#66b040" stroke-width="1.0" stroke-linecap="butt"/>
<line x1="469.45" y1="66.02" x2="471.85" y2="66.02" stroke="#66b040" stroke-width="1.0" stroke-linecap="butt"/>
<line x1="469.45" y1="72.16" x2="471.85" y2="72.16" stroke="#66b040" stroke-width="1.0" stroke-linecap="butt"/>
<circle cx="470.65" cy="69.09" r="1.5" fill="#66b040"/>
<circle cx="479.30" cy="109.03" r="1.5" fill="#66b040"/>
<line x1="410.10" y1="33.38" x2="410.10" y2="44.90" stroke="#b81a48" stroke-width="1.0" stroke-linecap="butt"/>
<line x1="408.90" y1="33.38" x2="411.30" y2="33.38" stroke="#b81a48" stroke-width="1.0" stroke-linecap="butt"/>
<line x1="408.90" y1="44.90" x2="411.30" y2="44.90" stroke="#b81a48" stroke-width="1.0" stroke-linecap="butt"/>
<circle cx="410.10" cy="39.14" r="1.6" fill="#b81a48"/>
<line x1="418.75" y1="34.15" x2="418.75" y2="35.68" stroke="#b81a48" stroke-width="1.0" stroke-linecap="butt"/>
<line x1="417.55" y1="34.15" x2="419.95" y2="34.15" stroke="#b81a48" stroke-width="1.0" stroke-linecap="butt"/>
<line x1="417.55" y1="35.68" x2="419.95" y2="35.68" stroke="#b81a48" stroke-width="1.0" stroke-linecap="butt"/>
<circle cx="418.75" cy="34.92" r="1.6" fill="#b81a48"/>
<circle cx="427.40" cy="34.92" r="1.6" fill="#b81a48"/>
<circle cx="436.05" cy="34.92" r="1.6" fill="#b81a48"/>
<line x1="444.70" y1="40.68" x2="444.70" y2="46.82" stroke="#b81a48" stroke-width="1.0" stroke-linecap="butt"/>
<line x1="443.50" y1="40.68" x2="445.90" y2="40.68" stroke="#b81a48" stroke-width="1.0" stroke-linecap="butt"/>
<line x1="443.50" y1="46.82" x2="445.90" y2="46.82" stroke="#b81a48" stroke-width="1.0" stroke-linecap="butt"/>
<circle cx="444.70" cy="43.75" r="1.6" fill="#b81a48"/>
<line x1="453.35" y1="103.65" x2="453.35" y2="106.72" stroke="#b81a48" stroke-width="1.0" stroke-linecap="butt"/>
<line x1="452.15" y1="103.65" x2="454.55" y2="103.65" stroke="#b81a48" stroke-width="1.0" stroke-linecap="butt"/>
<line x1="452.15" y1="106.72" x2="454.55" y2="106.72" stroke="#b81a48" stroke-width="1.0" stroke-linecap="butt"/>
<circle cx="453.35" cy="105.19" r="1.6" fill="#b81a48"/>
<circle cx="462.00" cy="108.64" r="1.6" fill="#b81a48"/>
<circle cx="470.65" cy="108.64" r="1.6" fill="#b81a48"/>
<circle cx="479.30" cy="110.56" r="1.6" fill="#b81a48"/>
<text x="486.30" y="151.20" font-size="8.0" font-weight="bold" fill="#000">IC<tspan font-size="5.4" dy="1.7">50</tspan></text>
<line x1="384.00" y1="159.40" x2="391.30" y2="159.40" stroke="#b81a48" stroke-width="1.1" stroke-linecap="butt"/>
<circle cx="387.70" cy="159.40" r="1.4" fill="#b81a48"/>
<line x1="384.00" y1="178.60" x2="391.30" y2="178.60" stroke="#66b040" stroke-width="1.1" stroke-linecap="butt"/>
<circle cx="387.70" cy="178.60" r="1.4" fill="#66b040"/>
<text x="394.00" y="161.80" font-size="7.6" textLength="53" lengthAdjust="spacingAndGlyphs" stroke="#1a1a1a" stroke-width="0.16">NOMO-1 + anti-</text>
<text x="394.00" y="170.30" font-size="7.6" textLength="53" lengthAdjust="spacingAndGlyphs" stroke="#1a1a1a" stroke-width="0.16">MSLN-DGN462</text>
<text x="394.00" y="181.00" font-size="7.6" textLength="83" lengthAdjust="spacingAndGlyphs" stroke="#1a1a1a" stroke-width="0.16">NOMO-1 MSLN<tspan font-size="5" dy="-3">KO</tspan><tspan dy="3"> + anti-</tspan></text>
<text x="394.00" y="190.20" font-size="7.6" textLength="53" lengthAdjust="spacingAndGlyphs" stroke="#1a1a1a" stroke-width="0.16">MSLN-DGN462</text>
<text x="483.70" y="161.80" font-size="7.6" textLength="23" lengthAdjust="spacingAndGlyphs" stroke="#1a1a1a" stroke-width="0.16">0.27nM</text>
<text x="483.70" y="181.00" font-size="7.6" textLength="23" lengthAdjust="spacingAndGlyphs" stroke="#1a1a1a" stroke-width="0.16">0.10uM</text>
<text x="7.30" y="211.20" font-size="11.8" font-weight="bold" fill="#000">D</text>
<text x="68.10" y="225.50" font-size="9.5" textLength="58.5" lengthAdjust="spacingAndGlyphs" stroke="#1a1a1a" stroke-width="0.16">K562-<tspan font-style="italic">MSLN</tspan>+</text>
<line x1="40.60" y1="237.20" x2="40.60" y2="316.30" stroke="#1c1c1c" stroke-width="1.2" stroke-linecap="butt"/>
<line x1="37.60" y1="245.10" x2="40.60" y2="245.10" stroke="#1c1c1c" stroke-width="1.0" stroke-linecap="butt"/>
<text x="34.40" y="247.85" font-size="8.0" text-anchor="end" stroke="#1a1a1a" stroke-width="0.18">100</text>
<line x1="37.60" y1="280.40" x2="40.60" y2="280.40" stroke="#1c1c1c" stroke-width="1.0" stroke-linecap="butt"/>
<text x="34.40" y="283.15" font-size="8.0" text-anchor="end" stroke="#1a1a1a" stroke-width="0.18">50</text>
<line x1="37.60" y1="315.70" x2="40.60" y2="315.70" stroke="#1c1c1c" stroke-width="1.0" stroke-linecap="butt"/>
<text x="34.40" y="318.45" font-size="8.0" text-anchor="end" stroke="#1a1a1a" stroke-width="0.18">0</text>
<line x1="40.00" y1="315.70" x2="153.70" y2="315.70" stroke="#1c1c1c" stroke-width="1.2" stroke-linecap="butt"/>
<line x1="40.60" y1="315.70" x2="40.60" y2="318.10" stroke="#1c1c1c" stroke-width="1.0" stroke-linecap="butt"/>
<text x="40.60" y="329.00" font-size="8.0" text-anchor="middle" stroke="#1a1a1a" stroke-width="0.18">0</text>
<line x1="62.80" y1="315.70" x2="62.80" y2="318.10" stroke="#1c1c1c" stroke-width="1.0" stroke-linecap="butt"/>
<text x="62.80" y="329.00" font-size="8.0" text-anchor="middle" stroke="#1a1a1a" stroke-width="0.18">20</text>
<line x1="85.00" y1="315.70" x2="85.00" y2="318.10" stroke="#1c1c1c" stroke-width="1.0" stroke-linecap="butt"/>
<text x="85.00" y="329.00" font-size="8.0" text-anchor="middle" stroke="#1a1a1a" stroke-width="0.18">40</text>
<line x1="107.20" y1="315.70" x2="107.20" y2="318.10" stroke="#1c1c1c" stroke-width="1.0" stroke-linecap="butt"/>
<text x="107.20" y="329.00" font-size="8.0" text-anchor="middle" stroke="#1a1a1a" stroke-width="0.18">60</text>
<line x1="129.40" y1="315.70" x2="129.40" y2="318.10" stroke="#1c1c1c" stroke-width="1.0" stroke-linecap="butt"/>
<text x="129.40" y="329.00" font-size="8.0" text-anchor="middle" stroke="#1a1a1a" stroke-width="0.18">80</text>
<line x1="151.60" y1="315.70" x2="151.60" y2="318.10" stroke="#1c1c1c" stroke-width="1.0" stroke-linecap="butt"/>
<text x="151.60" y="329.00" font-size="8.0" text-anchor="middle" stroke="#1a1a1a" stroke-width="0.18">100</text>
<text x="48.20" y="341.50" font-size="9" font-weight="bold" textLength="98.6" lengthAdjust="spacingAndGlyphs">Time (days) post injection of cells</text>
<text x="15.00" y="276.60" font-size="9" text-anchor="middle" font-weight="bold" textLength="46" lengthAdjust="spacingAndGlyphs" transform="rotate(-90 15.00 276.60)">Percent survival</text>
<text x="103.40" y="298.60" font-size="6.8" textLength="26.2" lengthAdjust="spacingAndGlyphs" stroke="#1a1a1a" stroke-width="0.16">p&lt;0.001</text>
<path d="M40.60,245.10 L130.10,245.10 L130.10,255.90 L132.30,255.90 L132.30,268.50 L136.80,268.50 L136.80,292.10 L140.10,292.10 L140.10,315.70" fill="none" stroke="#5e3282" stroke-width="1.3" stroke-linejoin="miter"/>
<path d="M40.60,245.10 L86.80,245.10 L86.80,286.50 L88.00,286.50 L88.00,315.70" fill="none" stroke="#4d6eae" stroke-width="1.6" stroke-linejoin="miter"/>
<path d="M40.60,245.40 L72.40,245.40 L72.40,257.80 L76.90,257.80 L76.90,315.70" fill="none" stroke="#eba23a" stroke-width="1.3" stroke-linejoin="miter"/>
<path d="M40.60,244.40 L79.20,244.40 L79.20,254.50 L81.20,254.50 L81.20,267.20 L85.00,267.20 L85.00,290.70 L86.60,290.70" fill="none" stroke="#a8621e" stroke-width="1.3" stroke-linejoin="miter"/>
<circle cx="72.40" cy="257.80" r="0.7" fill="#333"/>
<circle cx="79.20" cy="254.50" r="0.7" fill="#333"/>
<circle cx="81.20" cy="267.20" r="0.7" fill="#333"/>
<circle cx="85.00" cy="290.70" r="0.7" fill="#333"/>
<circle cx="86.60" cy="286.50" r="0.7" fill="#333"/>
<circle cx="130.10" cy="255.90" r="0.7" fill="#333"/>
<circle cx="132.30" cy="268.50" r="0.7" fill="#333"/>
<circle cx="136.80" cy="292.10" r="0.7" fill="#333"/>
<line x1="72.20" y1="349.00" x2="80.60" y2="349.00" stroke="#eba23a" stroke-width="1.1" stroke-linecap="butt"/>
<path d="M75.5,349.90 L77.5,349.90 L76.5,347.90Z" fill="#222"/>
<text x="83.70" y="351.50" font-size="7.6" textLength="31" lengthAdjust="spacingAndGlyphs" stroke="#1a1a1a" stroke-width="0.16">Untreated</text>
<line x1="72.20" y1="359.00" x2="80.60" y2="359.00" stroke="#5e3282" stroke-width="1.1" stroke-linecap="butt"/>
<path d="M75.5,359.90 L77.5,359.90 L76.5,357.90Z" fill="#222"/>
<text x="83.70" y="361.50" font-size="7.6" textLength="10" lengthAdjust="spacingAndGlyphs" stroke="#1a1a1a" stroke-width="0.16">AR</text>
<line x1="72.20" y1="369.40" x2="80.60" y2="369.40" stroke="#4d6eae" stroke-width="1.1" stroke-linecap="butt"/>
<path d="M75.5,370.30 L77.5,370.30 L76.5,368.30Z" fill="#222"/>
<text x="83.70" y="371.90" font-size="7.6" textLength="19.6" lengthAdjust="spacingAndGlyphs" stroke="#1a1a1a" stroke-width="0.16">IC-AR</text>
<line x1="72.20" y1="379.80" x2="80.60" y2="379.80" stroke="#a8621e" stroke-width="1.1" stroke-linecap="butt"/>
<path d="M75.5,380.70 L77.5,380.70 L76.5,378.70Z" fill="#222"/>
<text x="83.70" y="382.30" font-size="7.6" textLength="23" lengthAdjust="spacingAndGlyphs" stroke="#1a1a1a" stroke-width="0.16">Chemo</text>
<text x="179.30" y="211.20" font-size="11.8" font-weight="bold" fill="#000">E</text>
<text x="236.50" y="225.50" font-size="9.5" textLength="69" lengthAdjust="spacingAndGlyphs" stroke="#1a1a1a" stroke-width="0.16">MV4;11-<tspan font-style="italic">MSLN</tspan>+</text>
<line x1="212.20" y1="236.30" x2="212.20" y2="316.10" stroke="#1c1c1c" stroke-width="1.2" stroke-linecap="butt"/>
<line x1="209.20" y1="244.20" x2="212.20" y2="244.20" stroke="#1c1c1c" stroke-width="1.0" stroke-linecap="butt"/>
<text x="206.00" y="246.95" font-size="8.0" text-anchor="end" stroke="#1a1a1a" stroke-width="0.18">100</text>
<line x1="209.20" y1="279.85" x2="212.20" y2="279.85" stroke="#1c1c1c" stroke-width="1.0" stroke-linecap="butt"/>
<text x="206.00" y="282.60" font-size="8.0" text-anchor="end" stroke="#1a1a1a" stroke-width="0.18">50</text>
<line x1="209.20" y1="315.50" x2="212.20" y2="315.50" stroke="#1c1c1c" stroke-width="1.0" stroke-linecap="butt"/>
<text x="206.00" y="318.25" font-size="8.0" text-anchor="end" stroke="#1a1a1a" stroke-width="0.18">0</text>
<line x1="211.60" y1="315.50" x2="329.20" y2="315.50" stroke="#1c1c1c" stroke-width="1.2" stroke-linecap="butt"/>
<line x1="212.20" y1="315.50" x2="212.20" y2="317.90" stroke="#1c1c1c" stroke-width="1.0" stroke-linecap="butt"/>
<text x="212.20" y="329.00" font-size="8.0" text-anchor="middle" stroke="#1a1a1a" stroke-width="0.18">0</text>
<line x1="240.85" y1="315.50" x2="240.85" y2="317.90" stroke="#1c1c1c" stroke-width="1.0" stroke-linecap="butt"/>
<text x="240.85" y="329.00" font-size="8.0" text-anchor="middle" stroke="#1a1a1a" stroke-width="0.18">100</text>
<line x1="269.50" y1="315.50" x2="269.50" y2="317.90" stroke="#1c1c1c" stroke-width="1.0" stroke-linecap="butt"/>
<text x="269.50" y="329.00" font-size="8.0" text-anchor="middle" stroke="#1a1a1a" stroke-width="0.18">200</text>
<line x1="298.15" y1="315.50" x2="298.15" y2="317.90" stroke="#1c1c1c" stroke-width="1.0" stroke-linecap="butt"/>
<text x="298.15" y="329.00" font-size="8.0" text-anchor="middle" stroke="#1a1a1a" stroke-width="0.18">300</text>
<line x1="326.80" y1="315.50" x2="326.80" y2="317.90" stroke="#1c1c1c" stroke-width="1.0" stroke-linecap="butt"/>
<text x="326.80" y="329.00" font-size="8.0" text-anchor="middle" stroke="#1a1a1a" stroke-width="0.18">400</text>
<text x="237.20" y="341.50" font-size="9" font-weight="bold" textLength="67.3" lengthAdjust="spacingAndGlyphs">Days post cell injection</text>
<text x="187.00" y="276.00" font-size="9" text-anchor="middle" font-weight="bold" textLength="46" lengthAdjust="spacingAndGlyphs" transform="rotate(-90 187.00 276.00)">Percent survival</text>
<text x="281.30" y="304.20" font-size="6.8" textLength="30.9" lengthAdjust="spacingAndGlyphs" stroke="#1a1a1a" stroke-width="0.16">p&lt;0.0001</text>
<path d="M212.20,244.20 L310.60,244.20 L310.60,258.46 L314.70,258.46" fill="none" stroke="#5e3282" stroke-width="1.3" stroke-linejoin="miter"/>
<line x1="314.70" y1="256.96" x2="314.70" y2="259.06" stroke="#5e3282" stroke-width="1.0" stroke-linecap="butt"/>
<path d="M212.20,244.20 L230.00,244.20 L230.00,258.46 L232.40,258.46 L232.40,272.72 L232.80,272.72 L232.80,301.24 L236.00,301.24 L236.00,315.50" fill="none" stroke="#4d6eae" stroke-width="1.3" stroke-linejoin="miter"/>
<path d="M212.20,244.20 L221.60,244.20 L221.60,258.46 L222.40,258.46 L222.40,272.72 L223.00,272.72 L223.00,286.98 L223.60,286.98 L223.60,301.24 L225.10,301.24 L225.10,315.50" fill="none" stroke="#eba23a" stroke-width="1.3" stroke-linejoin="miter"/>
<circle cx="221.60" cy="258.46" r="0.7" fill="#333"/>
<circle cx="222.40" cy="272.72" r="0.7" fill="#333"/>
<circle cx="223.00" cy="286.98" r="0.7" fill="#333"/>
<circle cx="223.60" cy="301.24" r="0.7" fill="#333"/>
<circle cx="230.00" cy="258.46" r="0.7" fill="#333"/>
<circle cx="232.40" cy="272.72" r="0.7" fill="#333"/>
<circle cx="232.80" cy="301.24" r="0.7" fill="#333"/>
<line x1="251.00" y1="352.50" x2="259.40" y2="352.50" stroke="#eba23a" stroke-width="1.1" stroke-linecap="butt"/>
<path d="M254.2,353.40 L256.2,353.40 L255.2,351.40Z" fill="#222"/>
<text x="262.50" y="355.00" font-size="7.6" textLength="31" lengthAdjust="spacingAndGlyphs" stroke="#1a1a1a" stroke-width="0.16">Untreated</text>
<line x1="251.00" y1="363.60" x2="259.40" y2="363.60" stroke="#4d6eae" stroke-width="1.1" stroke-linecap="butt"/>
<path d="M254.2,364.50 L256.2,364.50 L255.2,362.50Z" fill="#222"/>
<text x="262.50" y="366.10" font-size="7.6" textLength="7.6" lengthAdjust="spacingAndGlyphs" stroke="#1a1a1a" stroke-width="0.16">IC</text>
<line x1="251.00" y1="374.40" x2="259.40" y2="374.40" stroke="#5e3282" stroke-width="1.1" stroke-linecap="butt"/>
<path d="M254.2,375.30 L256.2,375.30 L255.2,373.30Z" fill="#222"/>
<text x="262.50" y="376.90" font-size="7.6" textLength="9.8" lengthAdjust="spacingAndGlyphs" stroke="#1a1a1a" stroke-width="0.16">AR</text>
<text x="349.30" y="211.20" font-size="11.8" font-weight="bold" fill="#000">F</text>
<text x="416.80" y="225.50" font-size="9.5" textLength="69" lengthAdjust="spacingAndGlyphs" stroke="#1a1a1a" stroke-width="0.16">MV4;11-<tspan font-style="italic">MSLN</tspan>+</text>
<line x1="392.30" y1="231.10" x2="392.30" y2="316.60" stroke="#1c1c1c" stroke-width="1.2" stroke-linecap="butt"/>
<line x1="389.30" y1="316.00" x2="392.30" y2="316.00" stroke="#1c1c1c" stroke-width="1.0" stroke-linecap="butt"/>
<text x="385.30" y="318.75" font-size="8.0" text-anchor="end" stroke="#1a1a1a" stroke-width="0.18">0</text>
<line x1="389.30" y1="299.55" x2="392.30" y2="299.55" stroke="#1c1c1c" stroke-width="1.0" stroke-linecap="butt"/>
<text x="385.30" y="302.30" font-size="8.0" text-anchor="end" stroke="#1a1a1a" stroke-width="0.18">20</text>
<line x1="389.30" y1="283.10" x2="392.30" y2="283.10" stroke="#1c1c1c" stroke-width="1.0" stroke-linecap="butt"/>
<text x="385.30" y="285.85" font-size="8.0" text-anchor="end" stroke="#1a1a1a" stroke-width="0.18">40</text>
<line x1="389.30" y1="266.65" x2="392.30" y2="266.65" stroke="#1c1c1c" stroke-width="1.0" stroke-linecap="butt"/>
<text x="385.30" y="269.40" font-size="8.0" text-anchor="end" stroke="#1a1a1a" stroke-width="0.18">60</text>
<line x1="389.30" y1="250.20" x2="392.30" y2="250.20" stroke="#1c1c1c" stroke-width="1.0" stroke-linecap="butt"/>
<text x="385.30" y="252.95" font-size="8.0" text-anchor="end" stroke="#1a1a1a" stroke-width="0.18">80</text>
<line x1="389.30" y1="233.75" x2="392.30" y2="233.75" stroke="#1c1c1c" stroke-width="1.0" stroke-linecap="butt"/>
<text x="385.30" y="236.50" font-size="8.0" text-anchor="end" stroke="#1a1a1a" stroke-width="0.18">100</text>
<line x1="391.70" y1="316.00" x2="508.60" y2="316.00" stroke="#1c1c1c" stroke-width="1.2" stroke-linecap="butt"/>
<line x1="392.70" y1="316.00" x2="392.70" y2="318.40" stroke="#1c1c1c" stroke-width="1.0" stroke-linecap="butt"/>
<text x="392.70" y="329.00" font-size="8.0" text-anchor="middle" stroke="#1a1a1a" stroke-width="0.18">0</text>
<line x1="421.00" y1="316.00" x2="421.00" y2="318.40" stroke="#1c1c1c" stroke-width="1.0" stroke-linecap="butt"/>
<text x="421.00" y="329.00" font-size="8.0" text-anchor="middle" stroke="#1a1a1a" stroke-width="0.18">100</text>
<line x1="449.30" y1="316.00" x2="449.30" y2="318.40" stroke="#1c1c1c" stroke-width="1.0" stroke-linecap="butt"/>
<text x="449.30" y="329.00" font-size="8.0" text-anchor="middle" stroke="#1a1a1a" stroke-width="0.18">200</text>
<line x1="477.60" y1="316.00" x2="477.60" y2="318.40" stroke="#1c1c1c" stroke-width="1.0" stroke-linecap="butt"/>
<text x="477.60" y="329.00" font-size="8.0" text-anchor="middle" stroke="#1a1a1a" stroke-width="0.18">300</text>
<line x1="505.90" y1="316.00" x2="505.90" y2="318.40" stroke="#1c1c1c" stroke-width="1.0" stroke-linecap="butt"/>
<text x="505.90" y="329.00" font-size="8.0" text-anchor="middle" stroke="#1a1a1a" stroke-width="0.18">400</text>
<text x="417.20" y="341.50" font-size="9" font-weight="bold" textLength="67.3" lengthAdjust="spacingAndGlyphs">Days post cell injection</text>
<text x="357.50" y="273.90" font-size="9" text-anchor="middle" font-weight="bold" textLength="68" lengthAdjust="spacingAndGlyphs" transform="rotate(-90 357.50 273.90)">% human CD45+ cells</text>
<text x="366.00" y="273.20" font-size="9" text-anchor="middle" font-weight="bold" textLength="54" lengthAdjust="spacingAndGlyphs" transform="rotate(-90 366.00 273.20)">in peripheral blood</text>
<path d="M392.70,316.00 L494.58,316.00" fill="none" stroke="#5a2a84" stroke-width="1.3" stroke-linejoin="miter"/>
<path d="M392.70,314.10 L394.22,316.00 L392.70,317.90 L391.18,316.00Z" fill="#5a2a84"/>
<path d="M398.36,314.10 L399.88,316.00 L398.36,317.90 L396.84,316.00Z" fill="#5a2a84"/>
<path d="M400.62,314.10 L402.14,316.00 L400.62,317.90 L399.10,316.00Z" fill="#5a2a84"/>
<path d="M402.60,314.10 L404.12,316.00 L402.60,317.90 L401.08,316.00Z" fill="#5a2a84"/>
<path d="M404.59,314.10 L406.11,316.00 L404.59,317.90 L403.07,316.00Z" fill="#5a2a84"/>
<path d="M410.53,314.10 L412.05,316.00 L410.53,317.90 L409.01,316.00Z" fill="#5a2a84"/>
<path d="M412.51,314.10 L414.03,316.00 L412.51,317.90 L410.99,316.00Z" fill="#5a2a84"/>
<path d="M416.47,314.10 L417.99,316.00 L416.47,317.90 L414.95,316.00Z" fill="#5a2a84"/>
<path d="M421.00,314.10 L422.52,316.00 L421.00,317.90 L419.48,316.00Z" fill="#5a2a84"/>
<path d="M426.66,314.10 L428.18,316.00 L426.66,317.90 L425.14,316.00Z" fill="#5a2a84"/>
<path d="M434.30,314.10 L435.82,316.00 L434.30,317.90 L432.78,316.00Z" fill="#5a2a84"/>
<path d="M449.30,314.10 L450.82,316.00 L449.30,317.90 L447.78,316.00Z" fill="#5a2a84"/>
<path d="M460.62,314.10 L462.14,316.00 L460.62,317.90 L459.10,316.00Z" fill="#5a2a84"/>
<path d="M477.60,314.10 L479.12,316.00 L477.60,317.90 L476.08,316.00Z" fill="#5a2a84"/>
<path d="M488.92,314.10 L490.44,316.00 L488.92,317.90 L487.40,316.00Z" fill="#5a2a84"/>
<path d="M494.58,314.10 L496.10,316.00 L494.58,317.90 L493.06,316.00Z" fill="#5a2a84"/>
<path d="M392.70,316.00 L398.36,316.00 L400.62,315.18 L404.59,314.36 L410.53,311.06 L413.08,278.99" fill="none" stroke="#22418a" stroke-width="1.2" stroke-linejoin="miter"/>
<line x1="413.08" y1="272.00" x2="413.08" y2="285.98" stroke="#22418a" stroke-width="0.9" stroke-linecap="butt"/>
<line x1="411.88" y1="272.00" x2="414.28" y2="272.00" stroke="#22418a" stroke-width="0.9" stroke-linecap="butt"/>
<line x1="411.88" y1="285.98" x2="414.28" y2="285.98" stroke="#22418a" stroke-width="0.9" stroke-linecap="butt"/>
<rect x="390.95" y="314.25" width="3.50" height="3.50" fill="#22418a" stroke="none" stroke-width="0"/>
<rect x="396.61" y="314.25" width="3.50" height="3.50" fill="#22418a" stroke="none" stroke-width="0"/>
<rect x="398.87" y="313.43" width="3.50" height="3.50" fill="#22418a" stroke="none" stroke-width="0"/>
<rect x="402.84" y="312.61" width="3.50" height="3.50" fill="#22418a" stroke="none" stroke-width="0"/>
<rect x="408.78" y="309.31" width="3.50" height="3.50" fill="#22418a" stroke="none" stroke-width="0"/>
<rect x="411.33" y="277.24" width="3.50" height="3.50" fill="#22418a" stroke="none" stroke-width="0"/>
<path d="M392.70,316.00 L398.36,316.00 L400.62,311.06 L403.17,266.65" fill="none" stroke="#eba23a" stroke-width="1.2" stroke-linejoin="miter"/>
<line x1="403.17" y1="261.71" x2="403.17" y2="271.58" stroke="#eba23a" stroke-width="0.9" stroke-linecap="butt"/>
<line x1="401.97" y1="261.71" x2="404.37" y2="261.71" stroke="#eba23a" stroke-width="0.9" stroke-linecap="butt"/>
<line x1="401.97" y1="271.58" x2="404.37" y2="271.58" stroke="#eba23a" stroke-width="0.9" stroke-linecap="butt"/>
<circle cx="392.70" cy="316.00" r="1.8" fill="#eba23a"/>
<circle cx="398.36" cy="316.00" r="1.8" fill="#eba23a"/>
<circle cx="400.62" cy="311.06" r="1.8" fill="#eba23a"/>
<circle cx="403.17" cy="266.65" r="1.8" fill="#eba23a"/>
<line x1="402.30" y1="295.40" x2="402.30" y2="308.50" stroke="#000" stroke-width="1.2" stroke-linecap="butt"/>
<path d="M399.8,306.8 L404.8,306.8 L402.3,312.2Z" fill="#000"/>
<line x1="429.80" y1="351.50" x2="437.90" y2="351.50" stroke="#eba23a" stroke-width="1.1" stroke-linecap="butt"/>
<circle cx="433.90" cy="351.50" r="1.5" fill="#eba23a"/>
<text x="440.60" y="354.00" font-size="7.6" textLength="31" lengthAdjust="spacingAndGlyphs" stroke="#1a1a1a" stroke-width="0.16">Untreated</text>
<line x1="429.80" y1="362.30" x2="437.90" y2="362.30" stroke="#22418a" stroke-width="1.1" stroke-linecap="butt"/>
<rect x="432.10" y="360.50" width="3.60" height="3.60" fill="#22418a" stroke="none" stroke-width="0"/>
<text x="440.60" y="364.80" font-size="7.6" textLength="7.6" lengthAdjust="spacingAndGlyphs" stroke="#1a1a1a" stroke-width="0.16">IC</text>
<line x1="429.80" y1="373.30" x2="437.90" y2="373.30" stroke="#5a2a84" stroke-width="1.1" stroke-linecap="butt"/>
<path d="M433.90,371.60 L435.26,373.30 L433.90,375.00 L432.54,373.30Z" fill="#5a2a84"/>
<text x="440.60" y="375.80" font-size="7.6" textLength="9.8" lengthAdjust="spacingAndGlyphs" stroke="#1a1a1a" stroke-width="0.16">AR</text>
<text x="7.30" y="409.20" font-size="11.8" font-weight="bold" fill="#000">G</text>
<text x="60.00" y="420.00" font-size="9.5" textLength="77.5" lengthAdjust="spacingAndGlyphs" stroke="#1a1a1a" stroke-width="0.16"><tspan font-style="italic">MSLN</tspan>+ NTPL-146</text>
<line x1="40.50" y1="429.00" x2="40.50" y2="498.80" stroke="#1c1c1c" stroke-width="1.2" stroke-linecap="butt"/>
<line x1="37.50" y1="435.30" x2="40.50" y2="435.30" stroke="#1c1c1c" stroke-width="1.0" stroke-linecap="butt"/>
<text x="34.40" y="438.05" font-size="8.0" text-anchor="end" stroke="#1a1a1a" stroke-width="0.18">100</text>
<line x1="37.50" y1="451.02" x2="40.50" y2="451.02" stroke="#1c1c1c" stroke-width="1.0" stroke-linecap="butt"/>
<text x="34.40" y="453.77" font-size="8.0" text-anchor="end" stroke="#1a1a1a" stroke-width="0.18">75</text>
<line x1="37.50" y1="466.75" x2="40.50" y2="466.75" stroke="#1c1c1c" stroke-width="1.0" stroke-linecap="butt"/>
<text x="34.40" y="469.50" font-size="8.0" text-anchor="end" stroke="#1a1a1a" stroke-width="0.18">50</text>
<line x1="37.50" y1="482.47" x2="40.50" y2="482.47" stroke="#1c1c1c" stroke-width="1.0" stroke-linecap="butt"/>
<text x="34.40" y="485.22" font-size="8.0" text-anchor="end" stroke="#1a1a1a" stroke-width="0.18">25</text>
<line x1="37.50" y1="498.20" x2="40.50" y2="498.20" stroke="#1c1c1c" stroke-width="1.0" stroke-linecap="butt"/>
<text x="34.40" y="500.95" font-size="8.0" text-anchor="end" stroke="#1a1a1a" stroke-width="0.18">0</text>
<line x1="39.90" y1="498.20" x2="157.10" y2="498.20" stroke="#1c1c1c" stroke-width="1.2" stroke-linecap="butt"/>
<line x1="40.70" y1="498.20" x2="40.70" y2="500.60" stroke="#1c1c1c" stroke-width="1.0" stroke-linecap="butt"/>
<text x="40.70" y="511.20" font-size="8.0" text-anchor="middle" stroke="#1a1a1a" stroke-width="0.18">0</text>
<line x1="78.55" y1="498.20" x2="78.55" y2="500.60" stroke="#1c1c1c" stroke-width="1.0" stroke-linecap="butt"/>
<text x="78.55" y="511.20" font-size="8.0" text-anchor="middle" stroke="#1a1a1a" stroke-width="0.18">50</text>
<line x1="116.40" y1="498.20" x2="116.40" y2="500.60" stroke="#1c1c1c" stroke-width="1.0" stroke-linecap="butt"/>
<text x="116.40" y="511.20" font-size="8.0" text-anchor="middle" stroke="#1a1a1a" stroke-width="0.18">100</text>
<line x1="154.25" y1="498.20" x2="154.25" y2="500.60" stroke="#1c1c1c" stroke-width="1.0" stroke-linecap="butt"/>
<text x="154.25" y="511.20" font-size="8.0" text-anchor="middle" stroke="#1a1a1a" stroke-width="0.18">150</text>
<text x="44.80" y="524.00" font-size="9" font-weight="bold" textLength="105.8" lengthAdjust="spacingAndGlyphs">Time from death of untreated (days)</text>
<text x="14.60" y="464.00" font-size="9" text-anchor="middle" font-weight="bold" textLength="37.3" lengthAdjust="spacingAndGlyphs" transform="rotate(-90 14.60 464.00)">Survival (%)</text>
<path d="M40.70,434.80 L138.80,434.80 L138.80,466.75 L142.10,466.75 L142.10,498.20" fill="none" stroke="#b81a48" stroke-width="1.3" stroke-linejoin="miter"/>
<path d="M40.70,436.00 L88.80,436.00 L88.80,447.88 L97.30,447.88 L97.30,460.46 L102.70,460.46 L102.70,485.62 L112.40,485.62 L112.40,498.20" fill="none" stroke="#b81a48" stroke-width="1.3" stroke-dasharray="3,1.8" stroke-linejoin="miter"/>
<path d="M40.70,435.30 L60.10,435.30 L60.10,447.88 L65.00,447.88 L65.00,473.04 L70.70,473.04 L70.70,485.62 L71.50,485.62 L71.50,498.20" fill="none" stroke="#5ea8e4" stroke-width="1.2" stroke-dasharray="3,1.8" stroke-linejoin="miter"/>
<path d="M40.70,435.30 L64.50,435.30 L64.50,447.88 L65.20,447.88 L65.20,485.62 L66.00,485.62 L66.00,498.20" fill="none" stroke="#5ea8e4" stroke-width="1.3" stroke-linejoin="miter"/>
<text x="113.50" y="536.40" font-size="8.0" text-anchor="middle" font-weight="bold" textLength="55" lengthAdjust="spacingAndGlyphs" fill="#000" stroke="#000" stroke-width="0.15">Median survival</text>
<text x="113.20" y="545.20" font-size="8.0" text-anchor="middle" font-weight="bold" textLength="37.2" lengthAdjust="spacingAndGlyphs" fill="#000" stroke="#000" stroke-width="0.15">benefit (d)</text>
<line x1="34.00" y1="554.40" x2="43.50" y2="554.40" stroke="#b81a48" stroke-width="1.3" stroke-dasharray="3.5,2.5" stroke-linecap="butt"/>
<text x="46.80" y="556.90" font-size="7.0" textLength="42.4" lengthAdjust="spacingAndGlyphs" stroke="#1a1a1a" stroke-width="0.16">AR (2 cycles)</text>
<text x="118.50" y="556.90" font-size="7.0" text-anchor="end" stroke="#1a1a1a" stroke-width="0.16">82</text>
<line x1="34.00" y1="562.90" x2="43.50" y2="562.90" stroke="#5ea8e4" stroke-width="1.3" stroke-dasharray="3.5,2.5" stroke-linecap="butt"/>
<text x="46.80" y="565.40" font-size="7.0" textLength="52" lengthAdjust="spacingAndGlyphs" stroke="#1a1a1a" stroke-width="0.16">IC-AR (2 cycles)</text>
<text x="118.50" y="565.40" font-size="7.0" text-anchor="end" stroke="#1a1a1a" stroke-width="0.16">32</text>
<line x1="34.00" y1="571.40" x2="43.50" y2="571.40" stroke="#b81a48" stroke-width="1.3" stroke-linecap="butt"/>
<text x="46.80" y="573.90" font-size="7.0" textLength="42.4" lengthAdjust="spacingAndGlyphs" stroke="#1a1a1a" stroke-width="0.16">AR (3 cycles)</text>
<text x="118.50" y="573.90" font-size="7.0" text-anchor="end" stroke="#1a1a1a" stroke-width="0.16">132</text>
<line x1="34.00" y1="579.80" x2="43.50" y2="579.80" stroke="#5ea8e4" stroke-width="1.3" stroke-linecap="butt"/>
<text x="46.80" y="582.30" font-size="7.0" textLength="52" lengthAdjust="spacingAndGlyphs" stroke="#1a1a1a" stroke-width="0.16">IC-AR (3 cycles)</text>
<text x="118.50" y="582.30" font-size="7.0" text-anchor="end" stroke="#1a1a1a" stroke-width="0.16">33</text>
<path d="M123.10,552.20 L125.60,552.20 L125.60,565.00 L123.10,565.00" fill="none" stroke="#1a1a1a" stroke-width="1.0" stroke-linejoin="miter"/>
<path d="M123.10,569.50 L125.60,569.50 L125.60,583.00 L123.10,583.00" fill="none" stroke="#1a1a1a" stroke-width="1.0" stroke-linejoin="miter"/>
<text x="130.20" y="561.00" font-size="7.0" textLength="32.5" lengthAdjust="spacingAndGlyphs" stroke="#1a1a1a" stroke-width="0.16">p=0.0018</text>
<text x="130.20" y="579.90" font-size="7.0" textLength="32.5" lengthAdjust="spacingAndGlyphs" stroke="#1a1a1a" stroke-width="0.16">p=0.0069</text>
<text x="179.30" y="409.20" font-size="11.8" font-weight="bold" fill="#000">H</text>
<text x="247.00" y="419.50" font-size="9.5" textLength="52.2" lengthAdjust="spacingAndGlyphs" stroke="#1a1a1a" stroke-width="0.16"><tspan font-style="italic">MSLN</tspan>- DF-2</text>
<line x1="212.30" y1="425.50" x2="212.30" y2="498.90" stroke="#1c1c1c" stroke-width="1.2" stroke-linecap="butt"/>
<line x1="209.30" y1="431.20" x2="212.30" y2="431.20" stroke="#1c1c1c" stroke-width="1.0" stroke-linecap="butt"/>
<text x="206.20" y="433.95" font-size="8.0" text-anchor="end" stroke="#1a1a1a" stroke-width="0.18">100</text>
<line x1="209.30" y1="447.98" x2="212.30" y2="447.98" stroke="#1c1c1c" stroke-width="1.0" stroke-linecap="butt"/>
<text x="206.20" y="450.73" font-size="8.0" text-anchor="end" stroke="#1a1a1a" stroke-width="0.18">75</text>
<line x1="209.30" y1="464.75" x2="212.30" y2="464.75" stroke="#1c1c1c" stroke-width="1.0" stroke-linecap="butt"/>
<text x="206.20" y="467.50" font-size="8.0" text-anchor="end" stroke="#1a1a1a" stroke-width="0.18">50</text>
<line x1="209.30" y1="481.53" x2="212.30" y2="481.53" stroke="#1c1c1c" stroke-width="1.0" stroke-linecap="butt"/>
<text x="206.20" y="484.28" font-size="8.0" text-anchor="end" stroke="#1a1a1a" stroke-width="0.18">25</text>
<line x1="209.30" y1="498.30" x2="212.30" y2="498.30" stroke="#1c1c1c" stroke-width="1.0" stroke-linecap="butt"/>
<text x="206.20" y="501.05" font-size="8.0" text-anchor="end" stroke="#1a1a1a" stroke-width="0.18">0</text>
<line x1="211.70" y1="498.30" x2="333.30" y2="498.30" stroke="#1c1c1c" stroke-width="1.2" stroke-linecap="butt"/>
<line x1="212.50" y1="498.30" x2="212.50" y2="500.70" stroke="#1c1c1c" stroke-width="1.0" stroke-linecap="butt"/>
<text x="212.50" y="511.20" font-size="8.0" text-anchor="middle" stroke="#1a1a1a" stroke-width="0.18">0</text>
<line x1="236.00" y1="498.30" x2="236.00" y2="500.70" stroke="#1c1c1c" stroke-width="1.0" stroke-linecap="butt"/>
<text x="236.00" y="511.20" font-size="8.0" text-anchor="middle" stroke="#1a1a1a" stroke-width="0.18">10</text>
<line x1="259.50" y1="498.30" x2="259.50" y2="500.70" stroke="#1c1c1c" stroke-width="1.0" stroke-linecap="butt"/>
<text x="259.50" y="511.20" font-size="8.0" text-anchor="middle" stroke="#1a1a1a" stroke-width="0.18">20</text>
<line x1="283.00" y1="498.30" x2="283.00" y2="500.70" stroke="#1c1c1c" stroke-width="1.0" stroke-linecap="butt"/>
<text x="283.00" y="511.20" font-size="8.0" text-anchor="middle" stroke="#1a1a1a" stroke-width="0.18">30</text>
<line x1="306.50" y1="498.30" x2="306.50" y2="500.70" stroke="#1c1c1c" stroke-width="1.0" stroke-linecap="butt"/>
<text x="306.50" y="511.20" font-size="8.0" text-anchor="middle" stroke="#1a1a1a" stroke-width="0.18">40</text>
<line x1="330.00" y1="498.30" x2="330.00" y2="500.70" stroke="#1c1c1c" stroke-width="1.0" stroke-linecap="butt"/>
<text x="330.00" y="511.20" font-size="8.0" text-anchor="middle" stroke="#1a1a1a" stroke-width="0.18">50</text>
<text x="218.80" y="524.20" font-size="9" font-weight="bold" textLength="106.4" lengthAdjust="spacingAndGlyphs">Time from death of untreated (days)</text>
<text x="187.00" y="462.00" font-size="9" text-anchor="middle" font-weight="bold" textLength="36" lengthAdjust="spacingAndGlyphs" transform="rotate(-90 187.00 462.00)">Survival (%)</text>
<path d="M212.50,431.70 L240.60,431.70 L240.60,498.30" fill="none" stroke="#5ea8e4" stroke-width="1.3" stroke-linejoin="miter"/>
<path d="M212.50,430.70 L242.40,430.70 L242.40,498.30" fill="none" stroke="#b81a48" stroke-width="1.3" stroke-linejoin="miter"/>
<path d="M212.50,431.20 L215.80,431.20 L215.80,444.62 L223.00,444.62 L223.00,471.46 L225.60,471.46 L225.60,498.30" fill="none" stroke="#b81a48" stroke-width="1.3" stroke-dasharray="3,1.8" stroke-linejoin="miter"/>
<path d="M212.50,431.20 L215.00,431.20 L215.00,458.04 L222.00,458.04 L222.00,498.30" fill="none" stroke="#5ea8e4" stroke-width="1.2" stroke-dasharray="3,1.8" stroke-linejoin="miter"/>
<text x="287.80" y="536.40" font-size="8.0" text-anchor="middle" font-weight="bold" textLength="56" lengthAdjust="spacingAndGlyphs" fill="#000" stroke="#000" stroke-width="0.15">Median survival</text>
<text x="287.50" y="545.40" font-size="8.0" text-anchor="middle" font-weight="bold" textLength="36.6" lengthAdjust="spacingAndGlyphs" fill="#000" stroke="#000" stroke-width="0.15">benefit (d)</text>
<line x1="208.10" y1="553.40" x2="218.30" y2="553.40" stroke="#b81a48" stroke-width="1.3" stroke-dasharray="3.7,2.8" stroke-linecap="butt"/>
<text x="221.00" y="555.90" font-size="7.0" textLength="38" lengthAdjust="spacingAndGlyphs" stroke="#1a1a1a" stroke-width="0.16">AR (1 cycle)</text>
<text x="291.20" y="555.90" font-size="7.0" text-anchor="end" stroke="#1a1a1a" stroke-width="0.16">4</text>
<line x1="208.10" y1="562.60" x2="218.30" y2="562.60" stroke="#5ea8e4" stroke-width="1.3" stroke-dasharray="3.7,2.8" stroke-linecap="butt"/>
<text x="221.00" y="565.10" font-size="7.0" textLength="48" lengthAdjust="spacingAndGlyphs" stroke="#1a1a1a" stroke-width="0.16">IC-AR (1 cycle)</text>
<text x="291.20" y="565.10" font-size="7.0" text-anchor="end" stroke="#1a1a1a" stroke-width="0.16">4</text>
<line x1="208.10" y1="571.50" x2="218.30" y2="571.50" stroke="#b81a48" stroke-width="1.3" stroke-linecap="butt"/>
<text x="221.00" y="574.00" font-size="7.0" textLength="42" lengthAdjust="spacingAndGlyphs" stroke="#1a1a1a" stroke-width="0.16">AR (2 cycles)</text>
<text x="291.20" y="574.00" font-size="7.0" text-anchor="end" stroke="#1a1a1a" stroke-width="0.16">12</text>
<line x1="208.10" y1="580.40" x2="218.30" y2="580.40" stroke="#5ea8e4" stroke-width="1.3" stroke-linecap="butt"/>
<text x="221.00" y="582.90" font-size="7.0" textLength="52" lengthAdjust="spacingAndGlyphs" stroke="#1a1a1a" stroke-width="0.16">IC-AR (2 cycles)</text>
<text x="291.20" y="582.90" font-size="7.0" text-anchor="end" stroke="#1a1a1a" stroke-width="0.16">12</text>
<path d="M298.50,552.00 L301.00,552.00 L301.00,565.50 L298.50,565.50" fill="none" stroke="#1a1a1a" stroke-width="1.0" stroke-linejoin="miter"/>
<path d="M298.50,570.00 L301.00,570.00 L301.00,583.30 L298.50,583.30" fill="none" stroke="#1a1a1a" stroke-width="1.0" stroke-linejoin="miter"/>
<text x="303.70" y="561.30" font-size="7.0" textLength="28.8" lengthAdjust="spacingAndGlyphs" stroke="#1a1a1a" stroke-width="0.16">p=0.173</text>
<text x="303.70" y="578.80" font-size="7.0" textLength="14" lengthAdjust="spacingAndGlyphs" stroke="#1a1a1a" stroke-width="0.16">p=1</text>
<text x="348.80" y="408.60" font-size="11.2" font-weight="bold" fill="#000">I</text>
<line x1="391.90" y1="417.10" x2="391.90" y2="543.90" stroke="#1c1c1c" stroke-width="1.2" stroke-linecap="butt"/>
<line x1="388.90" y1="543.30" x2="391.90" y2="543.30" stroke="#1c1c1c" stroke-width="1.0" stroke-linecap="butt"/>
<text x="386.50" y="546.05" font-size="8.0" text-anchor="end" stroke="#1a1a1a" stroke-width="0.18">0</text>
<line x1="388.90" y1="529.51" x2="391.90" y2="529.51" stroke="#1c1c1c" stroke-width="1.0" stroke-linecap="butt"/>
<text x="386.50" y="532.26" font-size="8.0" text-anchor="end" stroke="#1a1a1a" stroke-width="0.18">2000</text>
<line x1="388.90" y1="515.72" x2="391.90" y2="515.72" stroke="#1c1c1c" stroke-width="1.0" stroke-linecap="butt"/>
<text x="386.50" y="518.47" font-size="8.0" text-anchor="end" stroke="#1a1a1a" stroke-width="0.18">4000</text>
<line x1="388.90" y1="501.94" x2="391.90" y2="501.94" stroke="#1c1c1c" stroke-width="1.0" stroke-linecap="butt"/>
<text x="386.50" y="504.69" font-size="8.0" text-anchor="end" stroke="#1a1a1a" stroke-width="0.18">6000</text>
<line x1="388.90" y1="488.15" x2="391.90" y2="488.15" stroke="#1c1c1c" stroke-width="1.0" stroke-linecap="butt"/>
<text x="386.50" y="490.90" font-size="8.0" text-anchor="end" stroke="#1a1a1a" stroke-width="0.18">8000</text>
<line x1="388.90" y1="474.36" x2="391.90" y2="474.36" stroke="#1c1c1c" stroke-width="1.0" stroke-linecap="butt"/>
<text x="386.50" y="477.11" font-size="8.0" text-anchor="end" stroke="#1a1a1a" stroke-width="0.18">10000</text>
<line x1="388.90" y1="460.57" x2="391.90" y2="460.57" stroke="#1c1c1c" stroke-width="1.0" stroke-linecap="butt"/>
<text x="386.50" y="463.32" font-size="8.0" text-anchor="end" stroke="#1a1a1a" stroke-width="0.18">12000</text>
<line x1="388.90" y1="446.78" x2="391.90" y2="446.78" stroke="#1c1c1c" stroke-width="1.0" stroke-linecap="butt"/>
<text x="386.50" y="449.53" font-size="8.0" text-anchor="end" stroke="#1a1a1a" stroke-width="0.18">14000</text>
<line x1="388.90" y1="433.00" x2="391.90" y2="433.00" stroke="#1c1c1c" stroke-width="1.0" stroke-linecap="butt"/>
<text x="386.50" y="435.75" font-size="8.0" text-anchor="end" stroke="#1a1a1a" stroke-width="0.18">16000</text>
<line x1="388.90" y1="419.21" x2="391.90" y2="419.21" stroke="#1c1c1c" stroke-width="1.0" stroke-linecap="butt"/>
<text x="386.50" y="421.96" font-size="8.0" text-anchor="end" stroke="#1a1a1a" stroke-width="0.18">18000</text>
<line x1="391.90" y1="543.30" x2="489.80" y2="543.30" stroke="#1c1c1c" stroke-width="1.2" stroke-linecap="butt"/>
<rect x="404.00" y="427.53" width="8.70" height="115.77" fill="#2f4c7e" stroke="#1f3c72" stroke-width="0.8"/>
<text x="408.35" y="422.33" font-size="7.2" text-anchor="middle" stroke="#1a1a1a" stroke-width="0.16">16793</text>
<rect x="435.40" y="497.68" width="8.70" height="45.62" fill="#2f4c7e" stroke="#1f3c72" stroke-width="0.8"/>
<text x="439.75" y="492.48" font-size="7.2" text-anchor="middle" stroke="#1a1a1a" stroke-width="0.16">6617</text>
<rect x="467.20" y="539.94" width="8.70" height="3.36" fill="#2f4c7e" stroke="#1f3c72" stroke-width="0.8"/>
<text x="471.55" y="534.74" font-size="7.2" text-anchor="middle" stroke="#1a1a1a" stroke-width="0.16">487</text>
<text x="358.00" y="480.10" font-size="9" text-anchor="middle" font-weight="bold" textLength="106" lengthAdjust="spacingAndGlyphs" transform="rotate(-90 358.00 480.10)">Mesothlien antibodies bound per cell</text>
<text x="411.50" y="548.30" font-size="7.0" text-anchor="end" textLength="33.0" lengthAdjust="spacingAndGlyphs" transform="rotate(-45 411.50 548.30)" stroke="#1a1a1a" stroke-width="0.16">OVCAR-3</text>
<text x="442.60" y="548.30" font-size="7.0" text-anchor="end" textLength="33.6" lengthAdjust="spacingAndGlyphs" transform="rotate(-45 442.60 548.30)" stroke="#1a1a1a" stroke-width="0.16">NTPL-146</text>
<text x="474.60" y="548.30" font-size="7.0" text-anchor="end" textLength="18.2" lengthAdjust="spacingAndGlyphs" transform="rotate(-45 474.60 548.30)" stroke="#1a1a1a" stroke-width="0.16">DF-2</text></svg></div></body></html>
